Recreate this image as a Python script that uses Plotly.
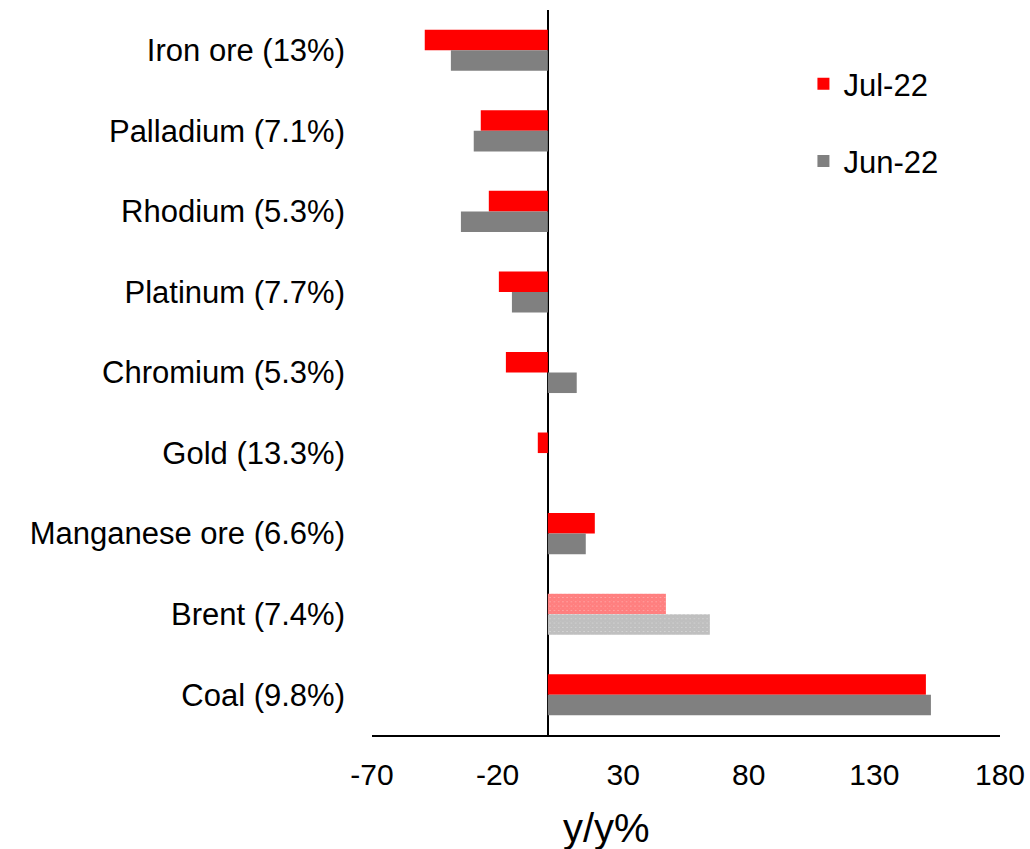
import plotly.graph_objects as go

# Commodity categories (with export weights), listed top to bottom
categories = [
    "Iron ore (13%)", "Palladium (7.1%)", "Rhodium (5.3%)", "Platinum (7.7%)",
    "Chromium (5.3%)", "Gold (13.3%)", "Manganese ore (6.6%)", "Brent (7.4%)", "Coal (9.8%)",
]
jul_22 = [-49.0, -26.7, -23.5, -19.5, -16.7, -4.0, 18.7, 47.0, 150.5]
jun_22 = [-38.6, -29.5, -34.6, -14.3, 11.5, 0.0, 15.1, 64.5, 152.5]
patterned = ["Brent (7.4%)"]
x_ticks = [-70, -20, 30, 80, 130, 180]

FONT = "Liberation Sans, Arial, sans-serif"


def pattern_for(color):
    shapes = ["x" if c in patterned else "" for c in categories]
    return dict(shape=shapes, fgcolor=color, bgcolor="white", size=3, solidity=0.95)


fig = go.Figure()
fig.add_trace(go.Bar(
    y=categories, x=jul_22, orientation="h", name="Jul-22",
    marker=dict(color="#ff0000", line=dict(width=0), pattern=pattern_for("#ff0000")),
    legendgroup="a",
))
fig.add_trace(go.Bar(
    y=categories, x=jun_22, orientation="h", name="Jun-22",
    marker=dict(color="#808080", line=dict(width=0), pattern=pattern_for("#808080")),
    legendgroup="b",
))

fig.update_layout(
    width=1030, height=849,
    margin=dict(l=372, r=30, t=10, b=114),
    paper_bgcolor="white", plot_bgcolor="white",
    barmode="group", bargap=0.49, bargroupgap=0,
    font=dict(family=FONT, size=31, color="black"),
    showlegend=True,
    legend=dict(
        x=0.687, y=0.935, xanchor="left", yanchor="top",
        font=dict(size=31), tracegroupgap=34, bgcolor="rgba(0,0,0,0)",
    ),
    xaxis=dict(
        range=[-70, 180], tickvals=x_ticks, ticktext=[str(v) for v in x_ticks],
        showgrid=False, zeroline=True, zerolinecolor="black", zerolinewidth=2,
        showline=True, linecolor="black", linewidth=2, ticks="",
        ticklabelstandoff=12, tickfont=dict(size=30), automargin=False,
    ),
    yaxis=dict(
        categoryorder="array", categoryarray=categories,
        range=[8.5, -0.5], showgrid=False, showline=False, ticks="",
        ticklabelstandoff=26, tickfont=dict(size=31), automargin=False,
    ),
    annotations=[dict(
        text="y/y%", x=0.374, y=-0.128, xref="paper", yref="paper",
        xanchor="center", yanchor="middle", showarrow=False, font=dict(size=40),
    )],
)

fig.write_html("out.html")
